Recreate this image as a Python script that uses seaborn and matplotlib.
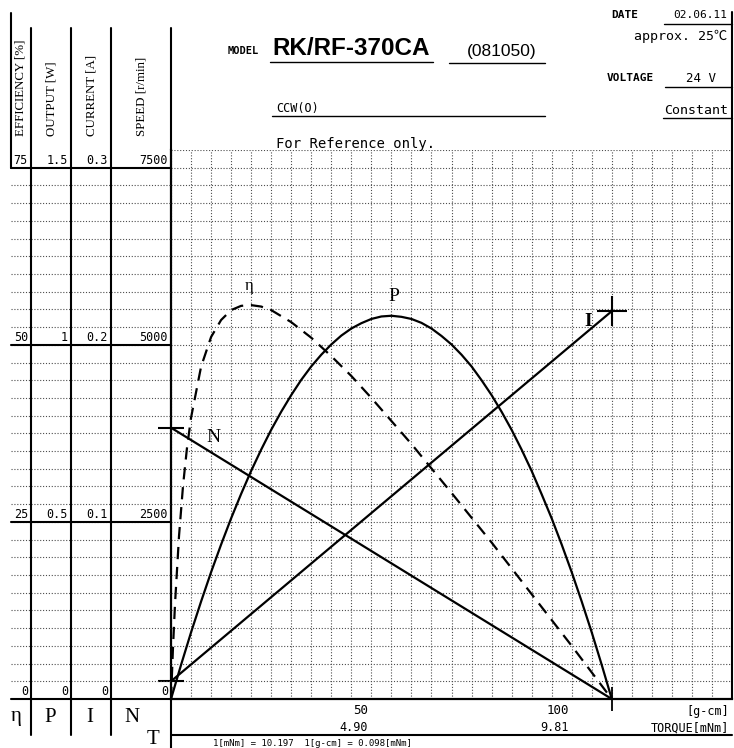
import numpy as np
import matplotlib
matplotlib.use("Agg")
import matplotlib.pyplot as plt
from matplotlib.ticker import MultipleLocator
import seaborn as sns

# ------------------------------------------------------------
# data (torque in g-cm)
# ------------------------------------------------------------
torque_nl = [0, 110]
speed_rpm = [3830, 0]
current_a = [0.010, 0.219]

torque_p = [0, 2.5, 5, 7.5, 10, 12.5, 15, 17.5, 20, 22.5, 25, 27.5, 30, 32.5, 35, 37.5,
            40, 42.5, 45, 47.5, 50, 52.5, 55, 57.5, 60, 62.5, 65, 67.5, 70, 72.5,
            75, 77.5, 80, 82.5, 85, 87.5, 90, 92.5, 95, 97.5, 100, 102.5, 105, 107.5, 110]
output_w = [0, 0.096, 0.188, 0.275, 0.358, 0.436, 0.510, 0.579, 0.644, 0.704, 0.760, 0.811,
            0.858, 0.901, 0.939, 0.972, 1.001, 1.026, 1.046, 1.061, 1.073, 1.080, 1.082,
            1.079, 1.073, 1.062, 1.046, 1.025, 1.001, 0.972, 0.939, 0.900, 0.858, 0.811,
            0.760, 0.704, 0.644, 0.578, 0.510, 0.436, 0.358, 0.275, 0.188, 0.096, 0]

torque_eff = [0, 0.5, 1, 2, 3, 4, 5, 7.5, 10, 12.5, 15, 17.5, 20, 22.5, 25, 30,
              35, 40, 45, 50, 60, 70, 80, 90, 100, 110]
efficiency = [0, 7.3, 13.4, 23.0, 30.1, 35.5, 39.7, 46.9, 51.1, 53.5, 54.9, 55.5, 55.6, 55.4,
              54.9, 53.2, 51.0, 48.4, 45.6, 42.5, 36.0, 29.1, 22.1, 14.8, 7.5, 0]

scale_titles = ["EFFICIENCY [%]", "OUTPUT [W]", "CURRENT [A]", "SPEED [r/min]"]
scale_symbols = ["η", "P", "I", "N"]
scale_full = [75, 1.5, 0.3, 7500]
scale_ticks = [[0, 25, 50, 75], [0, 0.5, 1, 1.5], [0, 0.1, 0.2, 0.3], [0, 2500, 5000, 7500]]
scale_labels = [["0", "25", "50", "75"], ["0", "0.5", "1", "1.5"],
                ["0", "0.1", "0.2", "0.3"], ["0", "2500", "5000", "7500"]]

torque_ticks = [50, 100]
torque_gcm = ["50", "100"]
torque_mnm = ["4.90", "9.81"]

# ------------------------------------------------------------
# layout (pixels)
# ------------------------------------------------------------
W, H = 734, 748
PL, PR, PT, PB = 171, 732, 150, 699
col_edges = [11, 31, 71, 111, 171]

sns.set_style("white")
plt.rcParams["font.family"] = ["DejaVu Sans Mono", "Noto Sans CJK JP"]
plt.rcParams["text.color"] = "black"
mono = ["DejaVu Sans Mono", "Noto Sans CJK JP"]
serif = ["Liberation Serif", "DejaVu Serif"]
sans = ["Liberation Sans", "DejaVu Sans"]

fig = plt.figure(figsize=(W / 100, H / 100), dpi=100)
fig.patch.set_facecolor("white")

grid_kw = dict(color="0.3", lw=0.8, ls=(0, (1, 1.6)))
n_div = 30  # divisions up to full scale


def rect(x0, x1, y0, y1):
    return [x0 / W, 1 - y1 / H, (x1 - x0) / W, (y1 - y0) / H]


# main plot (speed scale)
ax = fig.add_axes(rect(PL, PR, PT, PB))
ax.set_facecolor("none")
ax.set_xlim(0, 140)
ax.set_ylim(0, scale_full[3] * (n_div + 1) / n_div)
ax.xaxis.set_major_locator(MultipleLocator(5))
ax.yaxis.set_major_locator(MultipleLocator(scale_full[3] / n_div))
ax.grid(True, **grid_kw)
ax.tick_params(length=0, labelbottom=False, labelleft=False)
for s in ["top", "right"]:
    ax.spines[s].set_visible(False)
for s in ["left", "bottom"]:
    ax.spines[s].set_color("k")
    ax.spines[s].set_linewidth(1.6)

ax_eff = ax.twinx()
ax_out = ax.twinx()
ax_cur = ax.twinx()
for a in [ax_eff, ax_out, ax_cur]:
    a.axis("off")

line_kw = dict(color="k", lw=1.6, estimator=None, sort=False)
sns.lineplot(x=torque_nl, y=speed_rpm, ax=ax, **line_kw)
sns.lineplot(x=torque_nl, y=current_a, ax=ax_cur, **line_kw)
sns.lineplot(x=torque_p, y=output_w, ax=ax_out, **line_kw)
sns.lineplot(x=torque_eff, y=efficiency, ax=ax_eff, ls=(0, (5.5, 3.5)), **line_kw)

for a, full in zip([ax_eff, ax_out, ax_cur], scale_full[:3]):
    a.set_ylim(0, full * (n_div + 1) / n_div)
    a.set_xlim(0, 140)

# end marks
ax.plot(torque_nl[0], speed_rpm[0], marker="_", ms=19, mew=1.5, color="k", clip_on=False)
ax_cur.plot(torque_nl[0], current_a[0], marker="_", ms=19, mew=1.5, color="k", clip_on=False)
ax_cur.plot(torque_nl[-1], current_a[-1], marker="+", ms=21, mew=1.5, color="k", clip_on=False)
ax.plot(torque_nl[-1], speed_rpm[-1], marker="|", ms=17, mew=1.3, color="k", clip_on=False)

# curve names
ax_eff.text(19.5, 58.3, "η", family=serif, fontsize=12, ha="center", va="center")
ax_out.text(55.5, 1.135, "P", family=serif, fontsize=14, ha="center", va="center")
ax_cur.text(104, 0.213, "I", family=serif, fontsize=14, weight="bold", ha="center", va="center")
ax.text(10.5, 3690, "N", family=serif, fontsize=14, ha="center", va="center")

# torque tick labels
for t, g, m in zip(torque_ticks, torque_gcm, torque_mnm):
    ax.annotate(g, xy=(t, 0), xytext=(-3, -5), textcoords="offset pixels",
                ha="right", va="top", fontsize=9, family=mono, annotation_clip=False)
    ax.annotate(m, xy=(t, 0), xytext=(-3, -22), textcoords="offset pixels",
                ha="right", va="top", fontsize=8.5, family=mono, annotation_clip=False)

# scale columns on the left
for i in range(4):
    cax = fig.add_axes(rect(col_edges[i], col_edges[i + 1], PT, PB))
    cax.set_xlim(0, 1)
    full = scale_full[i]
    cax.set_ylim(0, full * (n_div + 1) / n_div)
    cax.axis("off")
    for k in range(1, n_div):
        cax.axhline(full * k / n_div, **grid_kw)
    for v, lab in zip(scale_ticks[i], scale_labels[i]):
        cax.axhline(v, color="k", lw=1.5, clip_on=False)
        cax.annotate(lab, xy=(1, v), xycoords=("axes fraction", "data"),
                     xytext=(-3, 1), textcoords="offset pixels",
                     ha="right", va="bottom", fontsize=8.5, family=mono)

# overlay for frame lines and header texts
ov = fig.add_axes([0, 0, 1, 1])
ov.set_xlim(0, W)
ov.set_ylim(H, 0)
ov.axis("off")

frame = dict(color="k", lw=1.5)
for x in col_edges[1:4]:
    ov.plot([x, x], [28, 735], **frame)
ov.plot([PL, PL], [28, PT], **frame)
ov.plot([PL, PL], [PB, H], **frame)
ov.plot([11, 11], [13, 168], **frame)
ov.plot([PR, PR], [12, PB], **frame)
ov.plot([PL, PR], [735, 735], **frame)

# column titles and symbols
title_x = [21, 52, 91, 142]
for x, t in zip(title_x, scale_titles):
    ov.text(x, 136, t, rotation=90, ha="center", va="bottom", fontsize=9.3, family=serif)
sym_x = [16, 50, 90, 132]
for x, s in zip(sym_x, scale_symbols):
    ov.text(x, 717, s, ha="center", va="center", fontsize=15, family=serif)
ov.text(153, 739, "T", ha="center", va="center", fontsize=15, family=serif)

# header
ul = dict(color="k", lw=1.0)
ov.text(228, 51, "MODEL", fontsize=7.5, weight="bold", family=mono, va="center")
ov.text(272, 48, "RK/RF-370CA", fontsize=17.5, weight="bold", family=sans, va="center")
ov.plot([270, 433], [62, 62], **ul)
ov.text(467, 51, "(081050)", fontsize=12.5, family=sans, va="center")
ov.plot([449, 545], [63, 63], **ul)
ov.text(276, 108, "CCW(O)", fontsize=8.5, family=mono, va="center")
ov.plot([272, 545], [116, 116], **ul)
ov.text(276, 144, "For Reference only.", fontsize=10, family=mono, va="center")

ov.text(611, 15, "DATE", fontsize=8, weight="bold", family=mono, va="center")
ov.text(727, 15, "02.06.11", fontsize=8, family=mono, va="center", ha="right")
ov.plot([664, PR], [24, 24], **ul)
ov.text(727, 36, "approx. 25℃", fontsize=9.5, family=mono, va="center", ha="right")
ov.text(607, 78, "VOLTAGE", fontsize=8, weight="bold", family=mono, va="center")
ov.text(701, 78, "24 V", fontsize=9, family=mono, va="center", ha="center")
ov.plot([665, PR], [87, 87], **ul)
ov.text(728, 110, "Constant", fontsize=9.5, family=mono, va="center", ha="right")
ov.plot([663, PR], [118, 118], **ul)

# torque units and conversion
ov.text(729, 711, "[g-cm]", fontsize=8.5, family=mono, va="center", ha="right")
ov.text(729, 728, "TORQUE[mNm]", fontsize=8.5, family=mono, va="center", ha="right")
ov.text(213, 743, "1[mNm] = 10.197  1[g-cm] = 0.098[mNm]", fontsize=6.5,
        family=mono, va="center", ha="left")

fig.savefig("out.png", dpi=100, facecolor="white")
